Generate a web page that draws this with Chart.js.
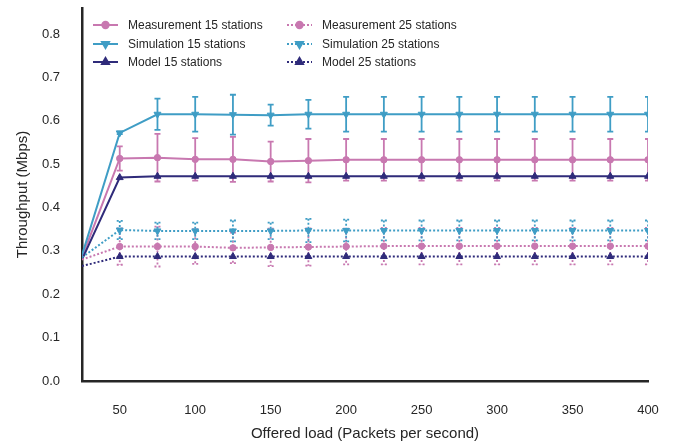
<!DOCTYPE html>
<html>
<head>
<meta charset="utf-8">
<script src="https://cdn.jsdelivr.net/npm/chart.js@4.4.1/dist/chart.umd.min.js"></script>
<style>
  body { margin: 0; background: #fff; }
  canvas { display: block; }
</style>
</head>
<body>
<canvas id="myChart" width="674" height="446"></canvas>
<script>
// Offered load (packets per second)
var loads = [25, 50, 75, 100, 125, 150, 175, 200, 225, 250, 275, 300, 325, 350, 375, 400];

// Throughput (Mbps), 15 stations
var meas15 = [0.285, 0.513, 0.515, 0.511, 0.511, 0.506, 0.508, 0.510, 0.510, 0.510, 0.510, 0.510, 0.510, 0.510, 0.510, 0.510];
var meas15Err = [0, 0.028, 0.055, 0.049, 0.052, 0.046, 0.050, 0.048, 0.048, 0.048, 0.048, 0.048, 0.048, 0.048, 0.048, 0.048];
var sim15 = [0.29, 0.572, 0.615, 0.615, 0.614, 0.613, 0.615, 0.615, 0.615, 0.615, 0.615, 0.615, 0.615, 0.615, 0.615, 0.615];
var sim15Err = [0, 0.003, 0.036, 0.040, 0.046, 0.024, 0.033, 0.040, 0.040, 0.040, 0.040, 0.040, 0.040, 0.040, 0.040, 0.040];
var model15 = [0.28, 0.469, 0.472, 0.472, 0.472, 0.472, 0.472, 0.472, 0.472, 0.472, 0.472, 0.472, 0.472, 0.472, 0.472, 0.472];

// Throughput (Mbps), 25 stations
var meas25 = [0.28, 0.310, 0.310, 0.310, 0.307, 0.308, 0.309, 0.310, 0.311, 0.311, 0.311, 0.311, 0.311, 0.311, 0.311, 0.311];
var meas25Err = [0, 0.042, 0.046, 0.040, 0.035, 0.043, 0.043, 0.041, 0.042, 0.042, 0.042, 0.042, 0.042, 0.042, 0.042, 0.042];
var sim25 = [0.285, 0.348, 0.346, 0.346, 0.346, 0.346, 0.347, 0.347, 0.347, 0.347, 0.347, 0.347, 0.347, 0.347, 0.347, 0.347];
var sim25Err = [0, 0.021, 0.019, 0.019, 0.024, 0.019, 0.027, 0.025, 0.023, 0.023, 0.023, 0.023, 0.023, 0.023, 0.023, 0.023];
var model25 = [0.265, 0.287, 0.287, 0.287, 0.287, 0.287, 0.287, 0.287, 0.287, 0.287, 0.287, 0.287, 0.287, 0.287, 0.287, 0.287];

// Tick labels
var xTicks = [50, 100, 150, 200, 250, 300, 350, 400];
var yTicks = [0, 0.1, 0.2, 0.3, 0.4, 0.5, 0.6, 0.7, 0.8];

var PINK = '#c878b0';
var CYAN = '#3f9dc5';
var NAVY = '#2f2b7a';
var INK = '#262626';
var FONT = "'Liberation Sans', Arial, sans-serif";
var DOTS = [2, 2];

function points(vals) {
    return loads.map(function (x, i) { return { x: x, y: vals[i] }; });
}

function series(label, vals, errs, color, style, rotation, radius, dashed, order) {
    return {
        label: label,
        data: points(vals),
        errors: errs,
        borderColor: color,
        backgroundColor: color,
        borderWidth: 2,
        borderDash: dashed ? DOTS : [],
        pointStyle: style,
        rotation: rotation,
        markerSize: radius,
        pointRadius: function (c) { return c.dataIndex === 0 ? 0 : radius; },
        pointBorderWidth: 1,
        tension: 0,
        order: order
    };
}

// drawn in this sequence, last one on top
var datasets = [
    series('Measurement 15 stations', meas15, meas15Err, PINK, 'circle', 0, 3.2, false, 5),
    series('Simulation 15 stations', sim15, sim15Err, CYAN, 'triangle', 180, 4, false, 4),
    series('Model 15 stations', model15, null, NAVY, 'triangle', 0, 4, false, 3),
    series('Measurement 25 stations', meas25, meas25Err, PINK, 'circle', 0, 3.2, true, 2),
    series('Simulation 25 stations', sim25, sim25Err, CYAN, 'triangle', 180, 4, true, 1),
    series('Model 25 stations', model25, null, NAVY, 'triangle', 0, 4, true, 0)
];

// Error bars drawn just before each line
var errorBars = {
    id: 'errorBars',
    beforeDatasetDraw: function (chart, args) {
        var ds = chart.data.datasets[args.index];
        if (!ds.errors) return;
        var ctx = chart.ctx;
        var area = chart.chartArea;
        var yScale = chart.scales.y;
        ctx.save();
        ctx.beginPath();
        ctx.rect(area.left, area.top, area.right - area.left, area.bottom - area.top);
        ctx.clip();
        ctx.strokeStyle = ds.borderColor;
        ctx.lineWidth = 1.8;
        ctx.setLineDash(ds.borderDash);
        args.meta.data.forEach(function (pt, i) {
            var e = ds.errors[i];
            if (!e) return;
            var v = ds.data[i].y;
            var top = yScale.getPixelForValue(v + e);
            var bot = yScale.getPixelForValue(v - e);
            ctx.beginPath();
            ctx.moveTo(pt.x, top);
            ctx.lineTo(pt.x, bot);
            ctx.moveTo(pt.x - 3, top);
            ctx.lineTo(pt.x + 3, top);
            ctx.moveTo(pt.x - 3, bot);
            ctx.lineTo(pt.x + 3, bot);
            ctx.stroke();
        });
        ctx.restore();
    }
};

// Two-column legend inside the plot
var legendBox = {
    id: 'legendBox',
    afterDraw: function (chart) {
        var ctx = chart.ctx;
        var cols = [93, 287];
        var rows = [25, 44, 62];
        ctx.save();
        ctx.font = '12px ' + FONT;
        ctx.textBaseline = 'middle';
        chart.data.datasets.forEach(function (ds, i) {
            var x = cols[Math.floor(i / 3)];
            var y = rows[i % 3];
            ctx.strokeStyle = ds.borderColor;
            ctx.fillStyle = ds.borderColor;
            ctx.lineWidth = 2;
            ctx.setLineDash(ds.borderDash);
            ctx.beginPath();
            ctx.moveTo(x, y);
            ctx.lineTo(x + 25, y);
            ctx.stroke();
            ctx.setLineDash([]);
            Chart.helpers.drawPoint(ctx, {
                pointStyle: ds.pointStyle,
                rotation: ds.rotation,
                radius: ds.markerSize,
                borderWidth: 1
            }, x + 12.5, y);
            ctx.fillStyle = INK;
            ctx.fillText(ds.label, x + 35, y + 1);
        });
        ctx.restore();
    }
};

function noPad(scale) {
    scale.paddingTop = 0;
    scale.paddingBottom = 0;
    scale.paddingLeft = 0;
    scale.paddingRight = 0;
}

var ctx = document.getElementById('myChart').getContext('2d');
var myChart = new Chart(ctx, {
    type: 'line',
    data: { datasets: datasets },
    options: {
        responsive: false,
        animation: false,
        layout: { padding: { left: 0, right: 26, top: 8, bottom: 0 } },
        plugins: {
            legend: { display: false },
            tooltip: { enabled: false }
        },
        scales: {
            x: {
                type: 'linear',
                min: 25,
                max: 400,
                afterBuildTicks: function (scale) {
                    scale.ticks = xTicks.map(function (v) { return { value: v }; });
                },
                afterFit: function (scale) { scale.height = 65; noPad(scale); },
                grid: { display: false, drawTicks: false },
                border: { display: true, color: INK, width: 2.5 },
                ticks: {
                    padding: 22,
                    color: INK,
                    maxRotation: 0,
                    font: { family: FONT, size: 13 }
                },
                title: {
                    display: true,
                    text: 'Offered load (Packets per second)',
                    color: INK,
                    font: { family: FONT, size: 15 },
                    padding: { top: 0, bottom: 3 }
                }
            },
            y: {
                min: 0,
                max: 0.86,
                afterBuildTicks: function (scale) {
                    scale.ticks = yTicks.map(function (v) { return { value: v }; });
                },
                afterFit: function (scale) { scale.width = 82; noPad(scale); },
                grid: { display: false, drawTicks: false },
                border: { display: true, color: INK, width: 2.5 },
                ticks: {
                    padding: 22,
                    color: INK,
                    font: { family: FONT, size: 13 },
                    callback: function (v) { return v.toFixed(1); }
                },
                title: {
                    display: true,
                    text: 'Throughput (Mbps)',
                    color: INK,
                    font: { family: FONT, size: 15 },
                    padding: { top: 14, bottom: 0 }
                }
            }
        }
    },
    plugins: [errorBars, legendBox]
});
</script>
</body>
</html>
